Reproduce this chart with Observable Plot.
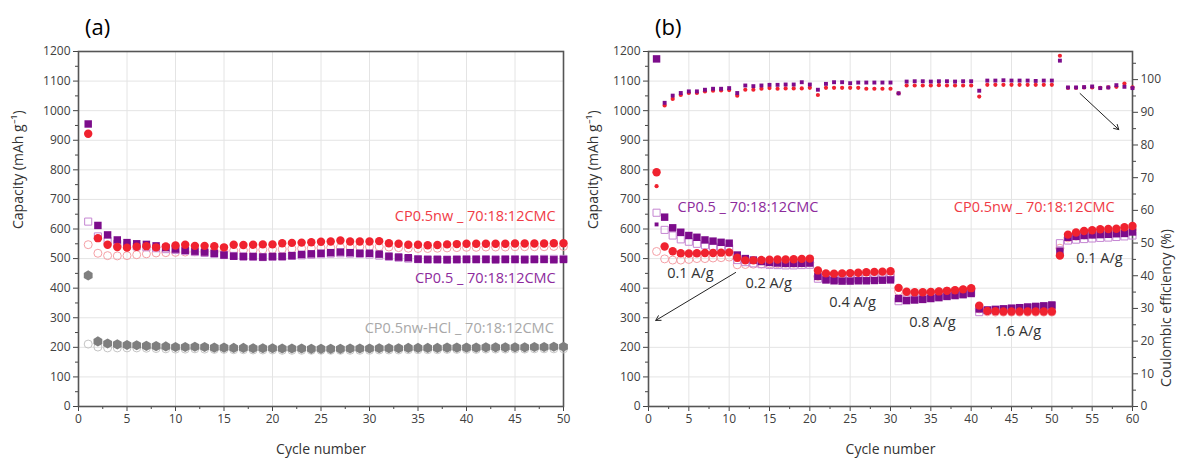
<!DOCTYPE html>
<html><head><meta charset="utf-8">
<script src="https://cdn.jsdelivr.net/npm/d3@7"></script>
<script src="https://cdn.jsdelivr.net/npm/@observablehq/plot@0.6"></script>
<style>
body{margin:0;background:#fff;font-family:"Open Sans",sans-serif;}
#wrap{position:relative;width:1182px;height:459px;overflow:hidden;}
.panel{position:absolute;top:0;}
.tag{position:absolute;font-size:22px;color:#000;top:11px;font-family:"Open Sans",sans-serif;}
</style></head><body>
<div id="wrap">
<div id="pa" class="panel" style="left:0"></div>
<div id="pb" class="panel" style="left:590px"></div>
<div class="tag" style="left:85px">(a)</div>
<div class="tag" style="left:655px">(b)</div>
</div>
<script>
// ---------- tick labels ----------
const Y_TICKS = [0,100,200,300,400,500,600,700,800,900,1000,1100,1200];
const Y_MINOR = [50,150,250,350,450,550,650,750,850,950,1050,1150];
const A_X_TICKS = [0,5,10,15,20,25,30,35,40,45,50];
const A_X_MINOR = [2.5,7.5,12.5,17.5,22.5,27.5,32.5,37.5,42.5,47.5];
const B_X_TICKS = [0,5,10,15,20,25,30,35,40,45,50,55,60];
const B_X_MINOR = [2.5,7.5,12.5,17.5,22.5,27.5,32.5,37.5,42.5,47.5,52.5,57.5];
const CE_TICKS = [0,10,20,30,40,50,60,70,80,90,100];
const CE_MINOR = [5,15,25,35,45,55,65,75,85,95,105];
const CE_TOP = 108.6; // right axis value at top of frame (left = 1200)

// ---------- panel (a): capacity (mAh/g) per cycle 1..50 ----------
const A_CP05_FILL = [955,612,580,563,554,550,548,543,537,532, 528,525,522,518,512,508,507,507,505,507, 507,510,514,516,518,520,522,520,518,518, 515,508,505,503,498,497,497,496,497,497, 497,497,496,497,497,496,497,497,496,497];
const A_CP05_OPEN = [625,575,560,550,545,541,538,535,532,529, 526,522,519,516,512,509,507,506,505,506, 507,509,511,513,515,517,518,517,516,514, 510,506,503,500,498,497,497,497,497,498, 498,498,498,498,498,498,498,499,499,499];
const A_NW_FILL = [922,569,547,539,537,540,542,538,541,544, 547,543,543,542,538,547,546,547,548,548, 552,553,554,555,557,558,561,558,558,558, 559,552,550,547,547,545,546,548,549,550, 550,550,550,550,551,551,551,551,552,552];
const A_NW_OPEN = [547,518,510,509,510,513,516,519,520,521, 522,523,524,524,525,527,528,529,530,531, 532,533,534,535,536,537,538,539,540,540, 540,539,537,535,534,534,535,536,537,538, 538,539,539,539,540,540,540,540,541,541];
const A_HCL_FILL = [443,220,213,210,208,207,205,204,203,201, 201,202,201,199,199,198,198,197,197,197, 196,196,196,195,195,195,195,196,196,196, 197,197,197,198,198,198,198,199,199,199, 199,200,200,200,200,200,201,201,202,202];
const A_HCL_OPEN = [211,201,198,198,198,198,197,196,195,194, 194,195,194,193,193,192,192,191,191,191, 190,190,190,190,190,190,190,190,190,190, 191,191,191,192,192,192,192,193,193,193, 193,194,194,194,194,194,195,195,195,195];

// ---------- panel (b): rate test, cycles 1..60 ----------
const B_CP05_FILL = [1175,640,604,589,578,572,563,559,555,552, 512,500,495,490,487,485,484,484,484,485, 440,428,425,424,424,425,425,426,427,428, 365,358,360,362,365,368,372,375,378,382, 330,326,328,330,332,334,336,338,340,343, 525,572,575,578,580,581,582,584,585,590];
const B_CP05_OPEN = [655,597,578,565,557,550,545,541,538,535, 495,488,484,481,479,478,477,477,478,479, 432,430,430,431,431,432,432,433,433,434, 356,362,364,366,369,372,375,378,381,385, 319,325,327,329,331,333,335,337,339,341, 552,561,564,566,568,570,571,573,575,578];
const B_NW_FILL = [792,541,525,518,517,518,519,519,520,521, 503,494,494,495,496,497,497,498,499,500, 460,450,449,450,451,452,454,455,456,457, 401,388,386,386,387,389,391,393,396,400, 341,323,322,321,321,321,321,321,321,321, 510,581,588,593,596,599,600,601,606,610];
const B_NW_OPEN = [524,499,495,495,497,500,500,502,503,505, 479,480,481,482,482,483,484,484,485,486, 440,440,441,442,443,444,445,446,447,448, 390,382,383,384,386,388,390,392,394,397, 330,320,319,319,319,319,319,319,319,319, 535,570,576,580,583,586,588,590,594,598];
// Coulombic efficiency (%)
const B_CP05_CE = [55.7,92.9,95.1,95.9,96.4,96.4,96.9,97.2,97.2,97.4, 95.9,98.2,98.0,98.2,98.4,98.4,98.5,98.5,99.2,98.5, 96.9,98.7,99.2,99.2,98.9,99.1,99.1,99.1,99.1,99.1, 95.8,99.4,99.5,99.5,99.4,99.5,99.5,99.4,99.5,99.5, 96.6,99.7,99.7,99.8,99.7,99.7,99.7,99.6,99.7,99.7, 105.8,97.6,97.6,97.7,97.9,97.4,97.6,98.3,97.8,97.4];
const B_NW_CE = [67.4,92.1,94.1,95.3,95.9,95.9,96.4,96.6,96.7,96.8, 95.1,96.9,96.9,97.2,97.4,97.2,97.3,97.3,97.3,97.5, 95.3,97.5,97.5,97.5,97.5,97.5,97.2,97.2,97.2,97.2, 95.8,98.2,98.2,98.2,98.2,98.3,98.2,98.2,98.2,98.2, 94.8,98.4,98.4,98.4,98.4,98.4,98.4,98.4,98.4,98.4, 107.3,97.5,97.5,97.6,97.6,97.5,97.6,97.8,98.8,97.6];

// ---------- annotations (data coordinates) ----------
const A_NOTE_TEXT = ["CP0.5nw _ 70:18:12CMC","CP0.5 _ 70:18:12CMC","CP0.5nw-HCl _ 70:18:12CMC"];
const A_NOTE_X = [49.2,49.2,49.0];
const A_NOTE_Y = [642,433,264];
const B_RATE_TEXT = ["0.1 A/g","0.2 A/g","0.4 A/g","0.8 A/g","1.6 A/g","0.1 A/g"];
const B_RATE_X = [5.2,14.9,25.3,35.2,45.8,55.9];
const B_RATE_Y = [450,416,352,284,254,500];
const B_ARROW_X1 = [10.8,53.5], B_ARROW_Y1 = [453,1058];
const B_ARROW_X2 = [0.9,58.3],  B_ARROW_Y2 = [291,936];

// ---------- colors ----------
const PURPLE = "#7c0c8b", PURPLE_L = "#c586d2";
const RED = "#f0222f", RED_L = "#f5a0a6";
const GRAY = "#7f7f7f", GRAY_L = "#c4c4c4";
const TXT_RED = "#f03a45", TXT_PURPLE = "#8d2a9c", TXT_GRAY = "#a8a8a8";

const toRows = arr => arr.map((v, i) => ({cycle: i + 1, v}));
const ceToCap = v => v * 1200 / CE_TOP;
const FONT = "'Open Sans', sans-serif";
const GRID = "#e4e4e4";
const LABEL_FS = 14.5;

function common(xTicks, xMinor, xGrid) {
  return [
    Plot.gridX(xGrid, {stroke: GRID, strokeOpacity: 1}),
    Plot.gridY(Y_TICKS, {stroke: GRID, strokeOpacity: 1}),
    Plot.axisX(xTicks, {tickSize: 5, tickPadding: 3, label: null, stroke: "#444", fill: "#404040", tickFormat: d => String(d)}),
    Plot.axisX(xMinor, {tickSize: 3, tickFormat: () => "", label: null, stroke: "#444"}),
    Plot.axisY(Y_TICKS, {tickSize: 5, tickPadding: 3, label: null, stroke: "#444", fill: "#404040", tickFormat: d => String(d)}),
    Plot.axisY(Y_MINOR, {tickSize: 3, tickFormat: () => "", label: null, stroke: "#444"}),
    Plot.frame({stroke: "#555", strokeWidth: 1.6}),
    Plot.text(["Cycle number"], {frameAnchor: "bottom", dy: 47, fontSize: 14, fill: "#333"}),
  ];
}

const A_GRID_X = [5,10,15,20,25,30,35,40,45];
const plotA = Plot.plot({
  width: 590, height: 459,
  marginLeft: 78, marginRight: 27, marginTop: 51, marginBottom: 53,
  style: {fontFamily: FONT, fontSize: "12px", background: "white", overflow: "visible"},
  x: {domain: [0, 50]},
  y: {domain: [0, 1200]},
  marks: [
    ...common(A_X_TICKS, A_X_MINOR, A_GRID_X),
    Plot.text(["Capacity (mAh g\u207B\u00B9)"], {frameAnchor: "left", dx: -60, rotate: -90, fontSize: 14, fill: "#333"}),
    Plot.dot(toRows(A_HCL_OPEN), {x: "cycle", y: "v", r: 4, stroke: GRAY_L, fill: "none", strokeWidth: 1}),
    Plot.dot(toRows(A_NW_OPEN), {x: "cycle", y: "v", r: 4, stroke: RED_L, fill: "none", strokeWidth: 1}),
    Plot.dot(toRows(A_CP05_OPEN), {x: "cycle", y: "v", symbol: "square", r: 4, stroke: PURPLE_L, fill: "none", strokeWidth: 1}),
    Plot.dot(toRows(A_HCL_FILL), {x: "cycle", y: "v", symbol: "hexagon", r: 4.4, fill: GRAY}),
    Plot.dot(toRows(A_CP05_FILL), {x: "cycle", y: "v", symbol: "square", r: 4.2, fill: PURPLE}),
    Plot.dot(toRows(A_NW_FILL), {x: "cycle", y: "v", r: 4.2, fill: RED}),
    Plot.text(A_NOTE_TEXT, {x: (d, i) => A_NOTE_X[i], y: (d, i) => A_NOTE_Y[i], text: d => d, textAnchor: "end", fontSize: LABEL_FS,
      fill: (d, i) => [TXT_RED, TXT_PURPLE, TXT_GRAY][i]}),
  ]
});
document.getElementById("pa").appendChild(plotA);

const B_GRID_X = [5,10,15,20,25,30,35,40,45,50,55];
const plotB = Plot.plot({
  width: 592, height: 459,
  marginLeft: 58, marginRight: 50, marginTop: 51, marginBottom: 53,
  style: {fontFamily: FONT, fontSize: "12px", background: "white", overflow: "visible"},
  x: {domain: [0, 60]},
  y: {domain: [0, 1200]},
  marks: [
    ...common(B_X_TICKS, B_X_MINOR, B_GRID_X),
    Plot.axisY(CE_TICKS.map(ceToCap), {anchor: "right", tickSize: 5, tickPadding: 3, label: null, stroke: "#444", fill: "#404040",
      tickFormat: d => String(Math.round(d * CE_TOP / 1200))}),
    Plot.axisY(CE_MINOR.map(ceToCap), {anchor: "right", tickSize: 3, tickFormat: () => "", label: null, stroke: "#444"}),
    Plot.text(["Capacity (mAh g\u207B\u00B9)"], {frameAnchor: "left", dx: -55, rotate: -90, fontSize: 14, fill: "#333"}),
    Plot.text(["Coulombic efficiency (%)"], {frameAnchor: "right", dx: 34, rotate: -90, fontSize: 14, fill: "#333"}),
    Plot.dot(toRows(B_NW_OPEN), {x: "cycle", y: "v", r: 4, stroke: RED_L, fill: "none", strokeWidth: 1}),
    Plot.dot(toRows(B_CP05_OPEN), {x: "cycle", y: "v", symbol: "square", r: 4, stroke: PURPLE_L, fill: "none", strokeWidth: 1}),
    Plot.dot(toRows(B_CP05_FILL), {x: "cycle", y: "v", symbol: "square", r: 4.2, fill: PURPLE}),
    Plot.dot(toRows(B_NW_FILL), {x: "cycle", y: "v", r: 4.2, fill: RED}),
    Plot.dot(toRows(B_NW_CE), {x: "cycle", y: d => ceToCap(d.v), r: 2.1, fill: RED}),
    Plot.dot(toRows(B_CP05_CE), {x: "cycle", y: d => ceToCap(d.v), symbol: "square", r: 2.2, fill: PURPLE}),
    Plot.text(["CP0.5 _ 70:18:12CMC"], {x: [3.6], y: [673], text: d => d, textAnchor: "start", fontSize: LABEL_FS, fill: TXT_PURPLE}),
    Plot.text(["CP0.5nw _ 70:18:12CMC"], {x: [57.8], y: [673], text: d => d, textAnchor: "end", fontSize: LABEL_FS, fill: TXT_RED}),
    Plot.text(B_RATE_TEXT, {x: (d, i) => B_RATE_X[i], y: (d, i) => B_RATE_Y[i], text: d => d, fontSize: LABEL_FS, fill: "#333"}),
    Plot.arrow(B_ARROW_X1, {x1: (d, i) => B_ARROW_X1[i], y1: (d, i) => B_ARROW_Y1[i], x2: (d, i) => B_ARROW_X2[i], y2: (d, i) => B_ARROW_Y2[i],
      stroke: "#222", strokeWidth: 1, headLength: 8}),
  ]
});
document.getElementById("pb").appendChild(plotB);
</script>
</body></html>
